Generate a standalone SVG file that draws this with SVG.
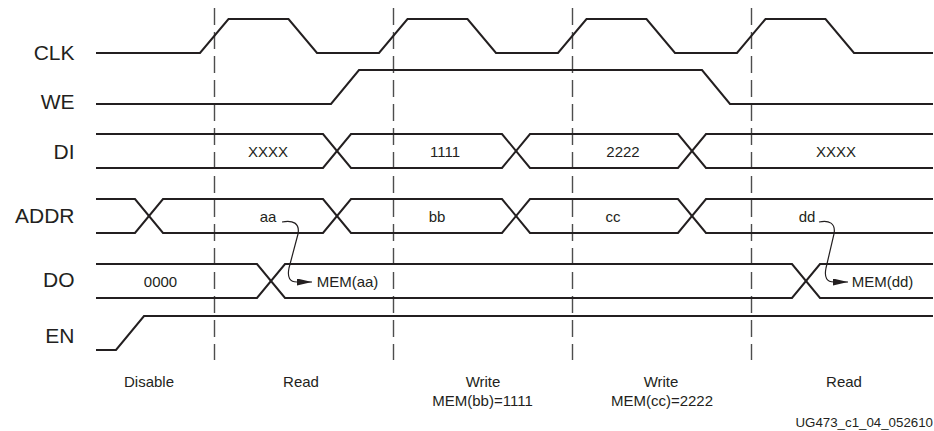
<svg xmlns="http://www.w3.org/2000/svg" width="934" height="431" viewBox="0 0 934 431">
<style>
.sig{fill:none;stroke:#231f20;stroke-width:2;stroke-linejoin:miter}
.dash{fill:none;stroke:#4d4d4d;stroke-width:1.4;stroke-dasharray:17 7}
.lbl{font-family:"Liberation Sans",Arial,sans-serif;font-size:21px;fill:#231f20;text-anchor:end}
.val{font-family:"Liberation Sans",Arial,sans-serif;font-size:15px;fill:#231f20;text-anchor:middle}
.ph{font-family:"Liberation Sans",Arial,sans-serif;font-size:15px;fill:#231f20;text-anchor:middle}
.cur{fill:none;stroke:#231f20;stroke-width:1.2}
.id{font-family:"Liberation Sans",Arial,sans-serif;font-size:13.3px;fill:#231f20;text-anchor:end}
</style>
<defs>
<marker id="ah" markerUnits="userSpaceOnUse" markerWidth="16" markerHeight="8" refX="15" refY="3.5" orient="auto">
<path d="M0,0 L15,3.5 L0,7 z" fill="#231f20"/>
</marker>
</defs>
<rect width="934" height="431" fill="#ffffff"/>
<g id="phases">
<line class="dash" x1="214.5" y1="8" x2="214.5" y2="360"/>
<line class="dash" x1="393.5" y1="8" x2="393.5" y2="360"/>
<line class="dash" x1="572.5" y1="8" x2="572.5" y2="360"/>
<line class="dash" x1="751.5" y1="8" x2="751.5" y2="360"/>
</g>
<g id="CLK">
<text class="lbl" x="74.5" y="60">CLK</text>
<path class="sig" d="M96,53 H200 L228.5,19 H288.5 L317,53 H379 L407.5,19 H467.5 L496,53 H558 L586.5,19 H646.5 L675,53 H737 L765.5,19 H825.5 L854,53 H933"/>
</g>
<g id="WE">
<text class="lbl" x="74.5" y="109">WE</text>
<path class="sig" d="M96,104 H331 L359,70 H702 L730,104 H933"/>
</g>
<g id="DI">
<text class="lbl" x="74.5" y="159">DI</text>
<path class="sig" d="M96,134 H323 L351,168 H502 L530,134 H678 L706,168 H933"/>
<path class="sig" d="M96,168 H323 L351,134 H502 L530,168 H678 L706,134 H933"/>
<text class="val" x="268" y="157">XXXX</text>
<text class="val" x="445" y="157">1111</text>
<text class="val" x="623" y="157">2222</text>
<text class="val" x="836" y="157">XXXX</text>
</g>
<g id="ADDR">
<text class="lbl" x="74.5" y="223">ADDR</text>
<path class="sig" d="M96,199 H135 L163,233 H323 L351,199 H502 L530,233 H678 L706,199 H933"/>
<path class="sig" d="M96,233 H135 L163,199 H323 L351,233 H502 L530,199 H678 L706,233 H933"/>
<text class="val" x="268" y="222">aa</text>
<text class="val" x="437" y="222">bb</text>
<text class="val" x="613" y="222">cc</text>
<text class="val" x="807" y="222">dd</text>
</g>
<g id="DO">
<text class="lbl" x="74.5" y="287">DO</text>
<path class="sig" d="M96,264 H257 L285,298 H792 L820,264 H933"/>
<path class="sig" d="M96,298 H257 L285,264 H792 L820,298 H933"/>
<text class="val" x="160.5" y="287">0000</text>
<text class="val" x="347.5" y="287">MEM(aa)</text>
<text class="val" x="882.5" y="287">MEM(dd)</text>
</g>
<g id="EN">
<text class="lbl" x="74.5" y="343">EN</text>
<path class="sig" d="M96,350 H116 L144,316 H933"/>
</g>
<g id="connectors">
<path class="cur" marker-end="url(#ah)" d="M282,222 C293,220 300,223 298,234 L289,268 C287,278 290,282 297,282 L312,282"/>
<path class="cur" marker-end="url(#ah)" d="M819,222 C829,220 836,223 834,234 L826,268 C824,278 827,282 834,282 L848,282"/>
</g>
<g id="labels">
<text class="ph" x="149" y="387">Disable</text>
<text class="ph" x="301" y="387">Read</text>
<text class="ph" x="483" y="387">Write</text>
<text class="ph" x="482.5" y="406">MEM(bb)=1111</text>
<text class="ph" x="661" y="387">Write</text>
<text class="ph" x="662" y="406">MEM(cc)=2222</text>
<text class="ph" x="844" y="387">Read</text>
<text class="id" x="933" y="426.5">UG473_c1_04_052610</text>
</g>
</svg>
